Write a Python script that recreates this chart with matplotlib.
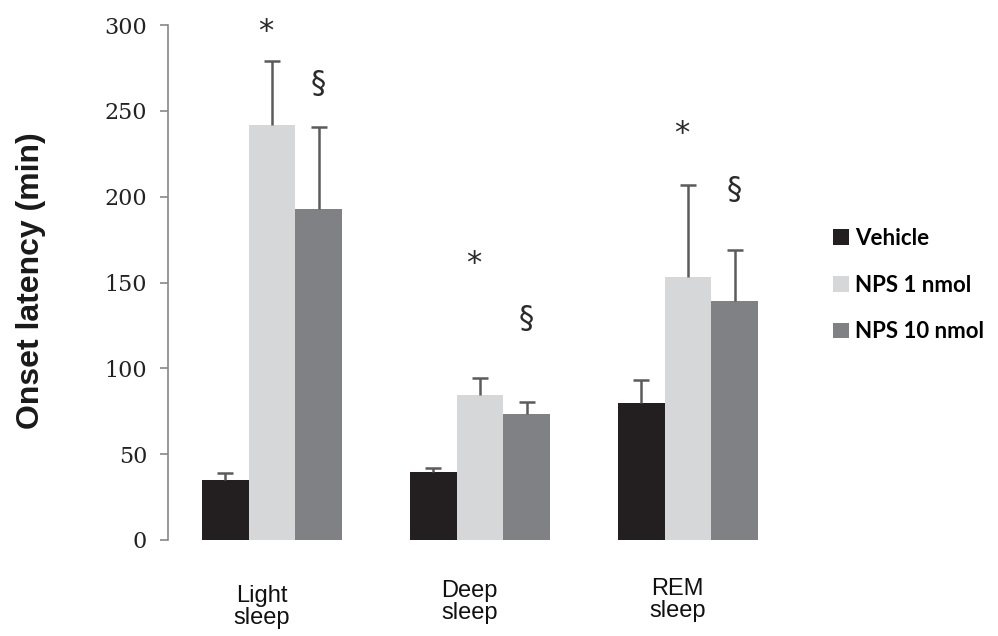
import numpy as np
import matplotlib
matplotlib.use("Agg")
import matplotlib.pyplot as plt
from matplotlib.transforms import blended_transform_factory

# Onset latency (min), mean + SEM
stages = ['Light\nsleep', 'Deep\nsleep', 'REM\nsleep']
groups = ['Vehicle', 'NPS 1 nmol', 'NPS 10 nmol']
vehicle = [35, 39.6, 79.6]
nps_1 = [241.7, 84.4, 153.3]
nps_10 = [192.6, 73.4, 139.4]
vehicle_sem = [3.8, 2.4, 13.6]
nps_1_sem = [37.3, 10.0, 53.5]
nps_10_sem = [48.1, 7.0, 29.6]

# significance marks: (stage index, series index, symbol, y position)
marks = [(0, 1, '*', 296), (0, 2, '§', 266),
         (1, 1, '*', 161), (1, 2, '§', 129),
         (2, 1, '*', 237), (2, 2, '§', 204)]

colors = ['#231f20', '#d6d7d9', '#808184']
err_color = '#5b5b5d'

fig = plt.figure(figsize=(9.98, 6.36), dpi=100)
ax = fig.add_axes([168 / 998, 96 / 636, 624 / 998, 515 / 636])

x = np.arange(len(stages))
w = 0.224
series = [vehicle, nps_1, nps_10]
sems = [vehicle_sem, nps_1_sem, nps_10_sem]
for i, (vals, err) in enumerate(zip(series, sems)):
    pos = x + (i - 1) * w
    ax.bar(pos, vals, width=w, color=colors[i], label=groups[i], zorder=2)
    eb = ax.errorbar(pos, vals, yerr=[np.zeros(len(err)), err], fmt='none',
                     ecolor=err_color, elinewidth=1.8, capsize=6,
                     capthick=1.8, zorder=3)
    # only the upper cap is wanted
    eb[1][0].set_visible(False)

for s, k, sym, yy in marks:
    xx = x[s] + (k - 1) * w
    dx = -0.03 if sym == '*' else 0.0
    ax.text(xx + dx, yy, sym, ha='center', va='center', fontsize=22,
            color='#2a2a2a', family='DejaVu Sans')

ax.set_xlim(-0.5, 2.5)
ax.set_ylim(0, 300)
ax.set_yticks(np.arange(0, 301, 50))
ax.tick_params(axis='y', direction='out', length=6, width=1.2,
               color='#888888', labelsize=16, pad=9, labelcolor='#222222')
for lab in ax.get_yticklabels():
    lab.set_family('DejaVu Serif')
ax.set_xticks([])

for side in ['top', 'right', 'bottom']:
    ax.spines[side].set_visible(False)
ax.spines['left'].set_color('#888888')
ax.spines['left'].set_linewidth(1.2)

# category labels sit at slightly different heights
label_y = [607, 602, 600]
trans = blended_transform_factory(ax.transData, fig.transFigure)
for i, name in enumerate(stages):
    ax.text(x[i] - 0.05, 1 - label_y[i] / 636, name, transform=trans,
            ha='center', va='center', fontsize=17, color='#111111',
            family='Liberation Sans', linespacing=1.05)

fig.text(31 / 998, 1 - 281 / 636, 'Onset latency (min)', rotation=90,
         ha='center', va='center', fontsize=23, fontweight='bold',
         family='Liberation Sans', color='#1a1a1a')

leg = ax.legend(loc='center left', bbox_to_anchor=(833 / 998, 1 - 285 / 636),
                bbox_transform=fig.transFigure, frameon=False, borderpad=0,
                borderaxespad=0, handlelength=0.7, handleheight=0.7,
                handletextpad=0.3, labelspacing=1.15,
                prop={'family': 'Lato', 'weight': 'bold', 'size': 16})

fig.savefig('out.png', dpi=100, facecolor='white')
